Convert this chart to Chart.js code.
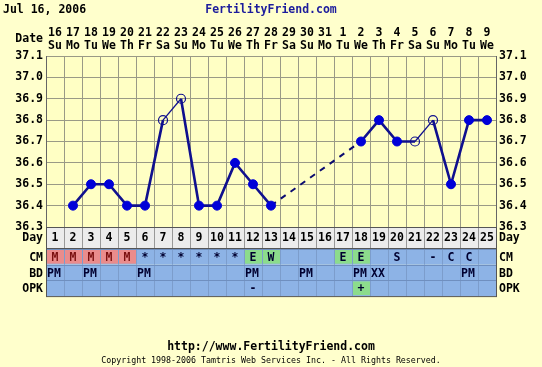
<!DOCTYPE html>
<html>
<head>
<meta charset="utf-8">
<script src="https://cdn.jsdelivr.net/npm/chart.js@4.4.1/dist/chart.umd.min.js"></script>
<style>
  html, body { margin: 0; padding: 0; background: #ffffcc; }
  canvas { display: block; }
</style>
</head>
<body>
<canvas id="chart" width="542" height="367"></canvas>
<script>
// --- chart data ---
const cycleDays = ['1','2','3','4','5','6','7','8','9','10','11','12','13','14','15','16','17','18','19','20','21','22','23','24','25'];
const dateNums = ['16','17','18','19','20','21','22','23','24','25','26','27','28','29','30','31','1','2','3','4','5','6','7','8','9'];
const weekDays = ['Su','Mo','Tu','We','Th','Fr','Sa','Su','Mo','Tu','We','Th','Fr','Sa','Su','Mo','Tu','We','Th','Fr','Sa','Su','Mo','Tu','We'];
const temps = [null, 36.4, 36.5, 36.5, 36.4, 36.4, 36.8, 36.9, 36.4, 36.4, 36.6, 36.5, 36.4, null, null, null, null, 36.7, 36.8, 36.7, 36.7, 36.8, 36.5, 36.8, 36.8];
// hollow circles = discarded temps
const openDays = [7, 8, 21, 22];
const cmRow = ['M','M','M','M','M','*','*','*','*','*','*','E','W','','','','E','E','','S','','-','C','C',''];
const bdRow = ['PM','','PM','','','PM','','','','','','PM','','','PM','','','PM','XX','','','','','PM',''];
const opkRow = ['','','','','','','','','','','','-','','','','','','+','','','','','','',''];
const tempTicks = ['36.3','36.4','36.5','36.6','36.7','36.8','36.9','37.0','37.1'];

const PAGE_BG = '#ffffcc';
const PLOT_BG = '#ffffc4';
const GRID = '#9a9a86';
const FONT = 'DejaVu Sans Mono';
const isOpen = i => openDays.includes(i + 1);

const cellColor = (row, v) => {
  if (row === 'CM' && v === 'M') return '#ea8c8c';
  if (row === 'CM' && (v === 'E' || v === 'W')) return '#8cdc8c';
  if (row === 'OPK' && v === '+') return '#8cdc8c';
  return null;
};

const ffPlugin = {
  id: 'ffChart',
  beforeDraw(chart) {
    const { ctx, chartArea: a } = chart;
    ctx.save();
    ctx.fillStyle = PAGE_BG;
    ctx.fillRect(0, 0, chart.width, chart.height);
    ctx.fillStyle = PLOT_BG;
    ctx.fillRect(a.left, a.top, a.right - a.left, a.bottom - a.top);
    ctx.restore();
  },
  afterDraw(chart) {
    const { ctx, chartArea: a } = chart;
    const x = chart.scales.x;
    const half = (a.right - a.left) / cycleDays.length / 2;
    ctx.save();
    ctx.textBaseline = 'middle';

    // header
    ctx.font = `bold 11.5px ${FONT}`;
    ctx.fillStyle = '#000';
    ctx.textAlign = 'left';
    ctx.fillText('Jul 16, 2006', 3, 10);
    ctx.fillStyle = '#1c1c9c';
    ctx.textAlign = 'center';
    ctx.fillText('FertilityFriend.com', 271, 10);
    ctx.fillStyle = '#000';
    ctx.textAlign = 'right';
    ctx.fillText('Date', a.left - 3, 39);

    // Day row
    const dayTop = a.bottom, dayBot = a.bottom + 21;
    ctx.fillStyle = '#ececec';
    ctx.fillRect(a.left, dayTop, a.right - a.left, dayBot - dayTop);
    ctx.strokeStyle = '#999';
    ctx.lineWidth = 1;
    cycleDays.forEach((d, i) => {
      const cx = x.getPixelForValue(i);
      ctx.beginPath();
      ctx.moveTo(Math.round(cx - half) + 0.5, dayTop);
      ctx.lineTo(Math.round(cx - half) + 0.5, dayBot);
      ctx.stroke();
      ctx.fillStyle = '#000';
      ctx.textAlign = 'center';
      ctx.fillText(d, cx, (dayTop + dayBot) / 2 + 1);
    });

    // CM / BD / OPK rows
    const rows = [['CM', cmRow], ['BD', bdRow], ['OPK', opkRow]];
    const rowH = 15.7;
    rows.forEach(([name, vals], r) => {
      const top = dayBot + 1 + r * rowH;
      ctx.fillStyle = '#8db3e6';
      ctx.fillRect(a.left, top, a.right - a.left, rowH);
      vals.forEach((v, i) => {
        const cx = x.getPixelForValue(i);
        const c = cellColor(name, v);
        if (c) {
          ctx.fillStyle = c;
          ctx.fillRect(cx - half + 1, top + 1, half * 2 - 1, rowH - 2);
        }
        ctx.strokeStyle = '#7c9dcc';
        ctx.beginPath();
        ctx.moveTo(Math.round(cx - half) + 0.5, top);
        ctx.lineTo(Math.round(cx - half) + 0.5, top + rowH);
        ctx.stroke();
        if (!v) return;
        ctx.fillStyle = (name === 'CM' && v === 'M') ? '#7a1010' : '#000030';
        if (name === 'BD') {
          ctx.textAlign = 'left';
          ctx.fillText(v, cx - half + 1, top + rowH / 2 + 1);
        } else {
          ctx.textAlign = 'center';
          ctx.fillText(v, cx, top + rowH / 2 + 1);
        }
      });
      ctx.strokeStyle = '#6f8fbf';
      ctx.beginPath();
      ctx.moveTo(a.left, Math.round(top) + 0.5);
      ctx.lineTo(a.right, Math.round(top) + 0.5);
      ctx.stroke();
    });
    const tableBot = dayBot + 1 + rows.length * rowH;
    ctx.strokeStyle = '#555';
    ctx.strokeRect(a.left + 0.5, dayTop + 0.5, a.right - a.left, tableBot - dayTop);
    ctx.beginPath();
    ctx.moveTo(a.left, dayBot + 0.5);
    ctx.lineTo(a.right, dayBot + 0.5);
    ctx.stroke();

    // row labels both sides
    const labels = [['Day', (dayTop + dayBot) / 2 + 1]].concat(rows.map((r, k) => [r[0], dayBot + 1 + k * rowH + rowH / 2 + 1]));
    ctx.fillStyle = '#000';
    labels.forEach(([t, y]) => {
      ctx.textAlign = 'right';
      ctx.fillText(t, a.left - 3, y);
      ctx.textAlign = 'left';
      ctx.fillText(t, a.right + 3, y);
    });

    // footer
    ctx.textAlign = 'center';
    ctx.fillText('http://www.FertilityFriend.com', 271, 347);
    ctx.font = `8.3px ${FONT}`;
    ctx.fillText('Copyright 1998-2006 Tamtris Web Services Inc. - All Rights Reserved.', 271, 361);
    ctx.restore();
  }
};

const tickFont = { family: FONT, size: 11.5, weight: 'bold', lineHeight: 1.15 };
const yAxis = (pos) => ({
  position: pos,
  min: 36.3,
  max: 37.1,
  afterBuildTicks: s => { s.ticks = tempTicks.map(t => ({ value: parseFloat(t) })); },
  ticks: { callback: v => v.toFixed(1), font: tickFont, color: '#000', padding: 3 },
  grid: { display: pos === 'left', color: GRID, drawTicks: false },
  border: { display: true, color: '#666' },
  afterFit: s => { s.width = 46; }
});

// a segment touching a missing temp is drawn dashed across the gap
const inGap = c => c.p0.skip || c.p1.skip;

new Chart(document.getElementById('chart'), {
  type: 'line',
  data: {
    labels: cycleDays,
    datasets: [{
      data: temps,
      spanGaps: true,
      borderColor: '#10108e',
      borderWidth: 2.6,
      pointRadius: 4.5,
      pointHoverRadius: 4.5,
      pointBackgroundColor: temps.map((t, i) => isOpen(i) ? 'rgba(0,0,0,0)' : '#0000d8'),
      pointBorderColor: temps.map((t, i) => isOpen(i) ? '#10108e' : '#0000d8'),
      pointBorderWidth: temps.map((t, i) => isOpen(i) ? 1.2 : 1),
      segment: {
        borderDash: c => (inGap(c) ? [6, 6] : undefined),
        borderColor: c => (inGap(c) ? '#0c0c70' : undefined),
        borderWidth: c => {
          if (inGap(c)) return 2;
          return (isOpen(c.p0DataIndex) && isOpen(c.p1DataIndex)) ? 1.3 : 2.6;
        }
      },
      tension: 0
    }]
  },
  options: {
    responsive: false,
    animation: false,
    layout: { padding: { top: 20, bottom: 140, left: 0, right: 0 } },
    plugins: { legend: { display: false }, tooltip: { enabled: false } },
    scales: {
      x: {
        type: 'category',
        position: 'bottom',
        offset: true,
        ticks: { display: false },
        grid: { offset: true, color: GRID, drawTicks: false },
        border: { display: true, color: '#555' },
        afterFit: s => { s.height = 0; }
      },
      xTop: {
        type: 'category',
        position: 'top',
        labels: dateNums.map((d, i) => [d, weekDays[i]]),
        offset: true,
        ticks: { font: tickFont, color: '#000', padding: 3, maxRotation: 0, autoSkip: false },
        grid: { display: false, drawTicks: false },
        border: { display: false },
        afterFit: s => { s.height = 36; }
      },
      y: yAxis('left'),
      y2: yAxis('right')
    }
  },
  plugins: [ffPlugin]
});
</script>
</body>
</html>
